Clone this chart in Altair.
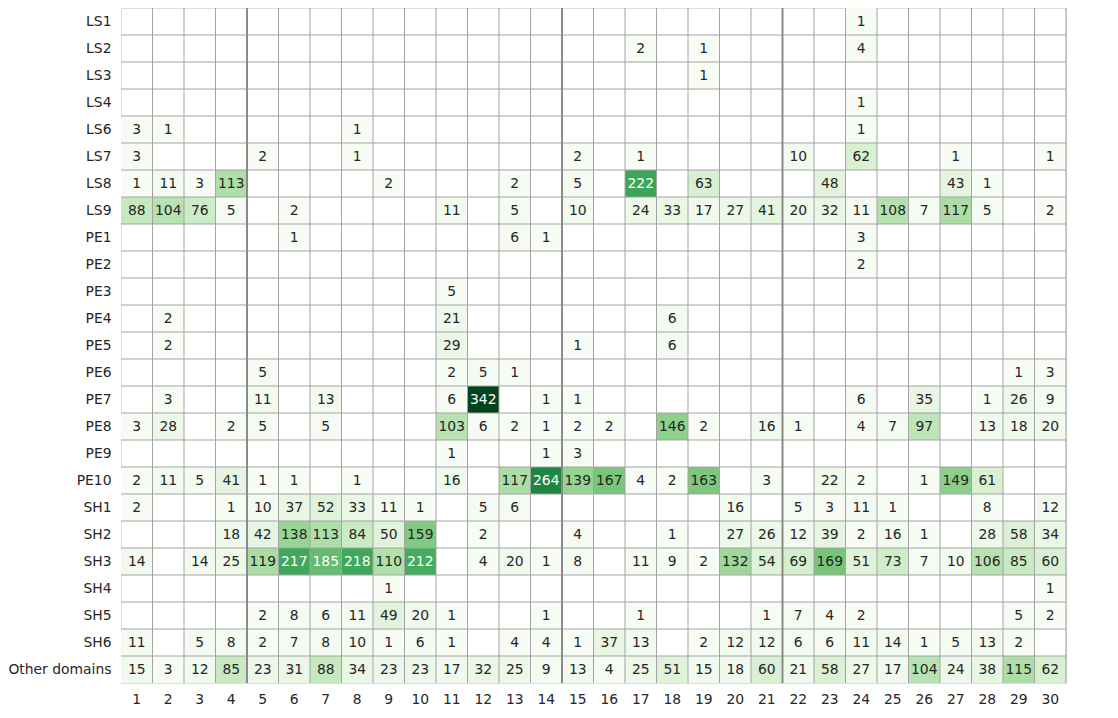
import altair as alt
import pandas as pd

# ---- data -------------------------------------------------------------
ROW_NAMES = ["LS1", "LS2", "LS3", "LS4", "LS6", "LS7", "LS8", "LS9",
             "PE1", "PE2", "PE3", "PE4", "PE5", "PE6", "PE7", "PE8", "PE9", "PE10",
             "SH1", "SH2", "SH3", "SH4", "SH5", "SH6", "Other domains"]
COLUMNS = list(range(1, 31))
THICK_AFTER = [4, 14, 21]

LS1 = [0,0,0,0,0, 0,0,0,0,0, 0,0,0,0,0, 0,0,0,0,0, 0,0,0,1,0, 0,0,0,0,0]
LS2 = [0,0,0,0,0, 0,0,0,0,0, 0,0,0,0,0, 0,2,0,1,0, 0,0,0,4,0, 0,0,0,0,0]
LS3 = [0,0,0,0,0, 0,0,0,0,0, 0,0,0,0,0, 0,0,0,1,0, 0,0,0,0,0, 0,0,0,0,0]
LS4 = [0,0,0,0,0, 0,0,0,0,0, 0,0,0,0,0, 0,0,0,0,0, 0,0,0,1,0, 0,0,0,0,0]
LS6 = [3,1,0,0,0, 0,0,1,0,0, 0,0,0,0,0, 0,0,0,0,0, 0,0,0,1,0, 0,0,0,0,0]
LS7 = [3,0,0,0,2, 0,0,1,0,0, 0,0,0,0,2, 0,1,0,0,0, 0,10,0,62,0, 0,1,0,0,1]
LS8 = [1,11,3,113,0, 0,0,0,2,0, 0,0,2,0,5, 0,222,0,63,0, 0,0,48,0,0, 0,43,1,0,0]
LS9 = [88,104,76,5,0, 2,0,0,0,0, 11,0,5,0,10, 0,24,33,17,27, 41,20,32,11,108, 7,117,5,0,2]
PE1 = [0,0,0,0,0, 1,0,0,0,0, 0,0,6,1,0, 0,0,0,0,0, 0,0,0,3,0, 0,0,0,0,0]
PE2 = [0,0,0,0,0, 0,0,0,0,0, 0,0,0,0,0, 0,0,0,0,0, 0,0,0,2,0, 0,0,0,0,0]
PE3 = [0,0,0,0,0, 0,0,0,0,0, 5,0,0,0,0, 0,0,0,0,0, 0,0,0,0,0, 0,0,0,0,0]
PE4 = [0,2,0,0,0, 0,0,0,0,0, 21,0,0,0,0, 0,0,6,0,0, 0,0,0,0,0, 0,0,0,0,0]
PE5 = [0,2,0,0,0, 0,0,0,0,0, 29,0,0,0,1, 0,0,6,0,0, 0,0,0,0,0, 0,0,0,0,0]
PE6 = [0,0,0,0,5, 0,0,0,0,0, 2,5,1,0,0, 0,0,0,0,0, 0,0,0,0,0, 0,0,0,1,3]
PE7 = [0,3,0,0,11, 0,13,0,0,0, 6,342,0,1,1, 0,0,0,0,0, 0,0,0,6,0, 35,0,1,26,9]
PE8 = [3,28,0,2,5, 0,5,0,0,0, 103,6,2,1,2, 2,0,146,2,0, 16,1,0,4,7, 97,0,13,18,20]
PE9 = [0,0,0,0,0, 0,0,0,0,0, 1,0,0,1,3, 0,0,0,0,0, 0,0,0,0,0, 0,0,0,0,0]
PE10 = [2,11,5,41,1, 1,0,1,0,0, 16,0,117,264,139, 167,4,2,163,0, 3,0,22,2,0, 1,149,61,0,0]
SH1 = [2,0,0,1,10, 37,52,33,11,1, 0,5,6,0,0, 0,0,0,0,16, 0,5,3,11,1, 0,0,8,0,12]
SH2 = [0,0,0,18,42, 138,113,84,50,159, 0,2,0,0,4, 0,0,1,0,27, 26,12,39,2,16, 1,0,28,58,34]
SH3 = [14,0,14,25,119, 217,185,218,110,212, 0,4,20,1,8, 0,11,9,2,132, 54,69,169,51,73, 7,10,106,85,60]
SH4 = [0,0,0,0,0, 0,0,0,1,0, 0,0,0,0,0, 0,0,0,0,0, 0,0,0,0,0, 0,0,0,0,1]
SH5 = [0,0,0,0,2, 8,6,11,49,20, 1,0,0,1,0, 0,1,0,0,0, 1,7,4,2,0, 0,0,0,5,2]
SH6 = [11,0,5,8,2, 7,8,10,1,6, 1,0,4,4,1, 37,13,0,2,12, 12,6,6,11,14, 1,5,13,2,0]
OTHER = [15,3,12,85,23, 31,88,34,23,23, 17,32,25,9,13, 4,25,51,15,18, 60,21,58,27,17, 104,24,38,115,62]

ROW_VALUES = [LS1, LS2, LS3, LS4, LS6, LS7, LS8, LS9,
              PE1, PE2, PE3, PE4, PE5, PE6, PE7, PE8, PE9, PE10,
              SH1, SH2, SH3, SH4, SH5, SH6, OTHER]

GREENS = ["#f7fcf5", "#e5f5e0", "#c7e9c0", "#a1d99b", "#74c476",
          "#41ab5d", "#238b45", "#006d2c", "#00441b"]

# ---- tables -----------------------------------------------------------
records = []
for name, vals in zip(ROW_NAMES, ROW_VALUES):
    for c, v in zip(COLUMNS, vals):
        records.append({"row": name, "col": c, "v": v})
df = pd.DataFrame(records)

vmin = 1
vmax = max(max(r) for r in ROW_VALUES)
stops = [vmin + i * (vmax - vmin) / 8 for i in range(9)]

vlines = pd.DataFrame({"col": COLUMNS})
thick = pd.DataFrame({"col": THICK_AFTER})
hlines = pd.DataFrame({"row": ROW_NAMES[:-1]})

W, H = 945, 675
FONT = "DejaVu Sans"
TXT = "#262626"

xscale = alt.Scale(domain=COLUMNS, paddingInner=0, paddingOuter=0)
yscale = alt.Scale(domain=ROW_NAMES, paddingInner=0, paddingOuter=0)

xaxis = alt.Axis(title=None, labelAngle=0, domain=False, ticks=False, tickSize=0,
                 labelPadding=9, labelFont=FONT, labelFontSize=13.9, labelColor=TXT)
yaxis = alt.Axis(title=None, domain=False, ticks=False, tickSize=0,
                 labelPadding=10, labelFont=FONT, labelFontSize=13.9, labelColor=TXT)

base = alt.Chart(df)

cells = base.transform_filter("datum.v > 0").mark_rect(strokeWidth=0).encode(
    x=alt.X("col:O", scale=xscale, axis=xaxis),
    y=alt.Y("row:N", scale=yscale, axis=yaxis),
    color=alt.Color("v:Q", scale=alt.Scale(domain=stops, range=GREENS, interpolate="rgb"),
                    legend=None),
)

vrules = alt.Chart(vlines).mark_rule(color="#a3a3a3", strokeWidth=1).encode(
    x=alt.X("col:O", scale=xscale, bandPosition=1),
    y=alt.value(0),
    y2=alt.value(H),
)

hrules = alt.Chart(hlines).mark_rule(color="#a3a3a3", strokeWidth=1).encode(
    y=alt.Y("row:N", scale=yscale, bandPosition=1),
    x=alt.value(0),
    x2=alt.value(W),
)

trules = alt.Chart(thick).mark_rule(color="#8a8a8a", strokeWidth=2).encode(
    x=alt.X("col:O", scale=xscale, bandPosition=1),
    y=alt.value(0),
    y2=alt.value(H),
)

labels = base.transform_filter("datum.v > 0").mark_text(
    font=FONT, fontSize=13.9, align="center", baseline="middle"
).encode(
    x=alt.X("col:O", scale=xscale),
    y=alt.Y("row:N", scale=yscale),
    text=alt.Text("v:Q"),
    color=alt.condition("datum.v > 175", alt.value("#ffffff"), alt.value(TXT)),
)

chart = alt.layer(cells, vrules, hrules, trules, labels).properties(
    width=W,
    height=H,
    autosize=alt.AutoSizeParams(type="none"),
    padding={"left": 113, "top": 0, "right": 10, "bottom": 30},
).configure_view(stroke=None).configure(background="white")

chart.save("out.html", embed_options={"renderer": "svg", "actions": False})
